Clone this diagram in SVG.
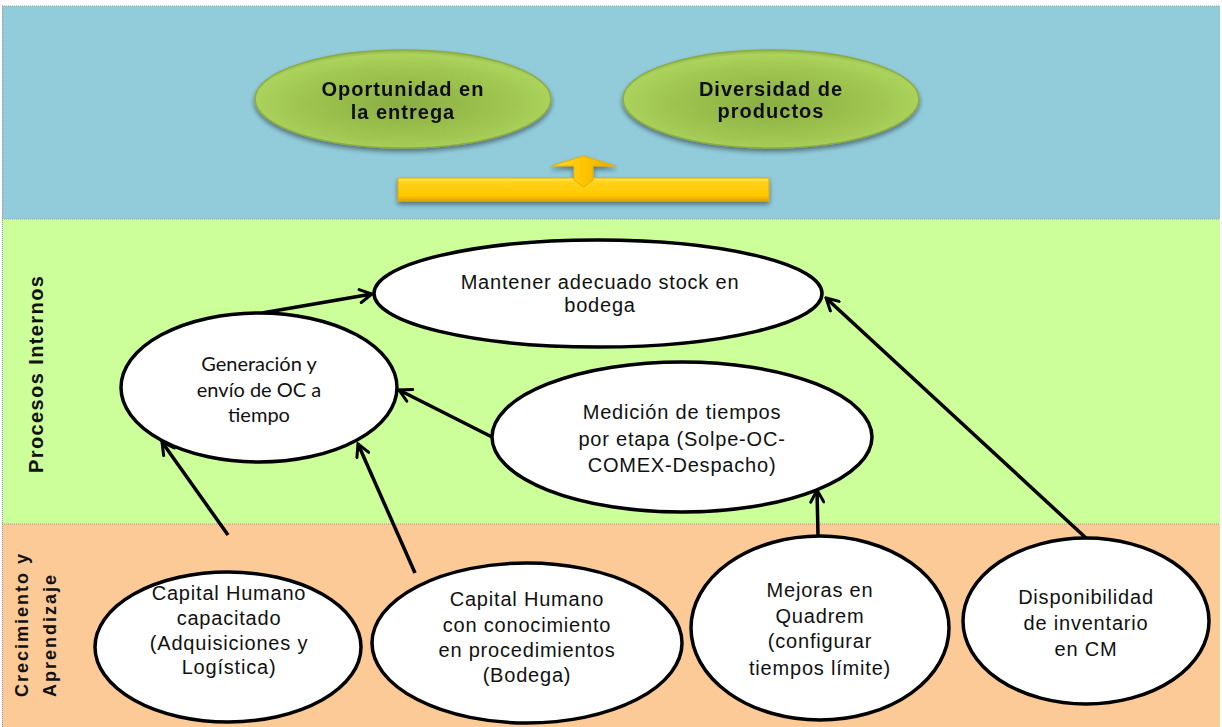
<svg xmlns="http://www.w3.org/2000/svg" width="1222" height="727" viewBox="0 0 1222 727">
  <defs>
    <radialGradient id="leafFill" cx="50%" cy="55%" r="55%">
      <stop offset="0%" stop-color="#8AAD43"/>
      <stop offset="70%" stop-color="#A2C852"/>
      <stop offset="92%" stop-color="#ABD35C"/>
      <stop offset="100%" stop-color="#93B448"/>
    </radialGradient>
    <linearGradient id="goldBar" x1="0" y1="0" x2="0" y2="1">
      <stop offset="0%" stop-color="#FFE66A"/>
      <stop offset="18%" stop-color="#FFD21A"/>
      <stop offset="75%" stop-color="#FFC800"/>
      <stop offset="100%" stop-color="#E0A300"/>
    </linearGradient>
    <linearGradient id="goldShaft" x1="0" y1="0" x2="1" y2="0">
      <stop offset="0%" stop-color="#FFD93A"/>
      <stop offset="50%" stop-color="#FFC400"/>
      <stop offset="100%" stop-color="#E8AA00"/>
    </linearGradient>
    <filter id="softShadow" x="-20%" y="-20%" width="140%" height="160%">
      <feGaussianBlur in="SourceAlpha" stdDeviation="2.5"/>
      <feOffset dx="0" dy="3" result="b"/>
      <feComponentTransfer><feFuncA type="linear" slope="0.45"/></feComponentTransfer>
      <feMerge><feMergeNode/><feMergeNode in="SourceGraphic"/></feMerge>
    </filter>
    <marker id="openArrow" viewBox="0 0 16 16" refX="14" refY="8" markerWidth="16" markerHeight="16" markerUnits="userSpaceOnUse" orient="auto">
      <path d="M2,1.5 L14,8 L2,14.5" fill="none" stroke="#000" stroke-width="3" stroke-linecap="round" stroke-linejoin="miter"/>
    </marker>
  </defs>
  <style>
    .node { fill: #FFFFFF; stroke: #000; stroke-width: 3.5; }
    .txt { font-family: "Liberation Sans", Arial, sans-serif; font-size: 20px; letter-spacing: 0.8px; fill: #111; text-anchor: middle; }
    .txtc { font-family: Lato, "Liberation Sans", sans-serif; font-size: 20px; fill: #111; text-anchor: middle; }
    .goal { font-family: "Liberation Sans", Arial, sans-serif; font-size: 20px; font-weight: bold; letter-spacing: 1px; fill: #111; text-anchor: middle; }
    .lane { font-family: "Liberation Sans", Arial, sans-serif; font-weight: bold; fill: #111; }
    .conn { fill: none; stroke: #000; stroke-width: 3.5; marker-end: url(#openArrow); }
    .sep { stroke: #9A9A9A; stroke-width: 1; stroke-dasharray: 1 1; }
  </style>

  <rect x="0" y="0" width="1222" height="727" fill="#FFFFFF"/>

  <!-- perspective bands -->
  <g id="bands">
    <rect x="2" y="6" width="1218" height="213" fill="#92CCDB"/>
    <rect x="2" y="219" width="1218" height="305" fill="#CCFF99"/>
    <rect x="2" y="524" width="1218" height="203" fill="#FBCA97"/>
    <line class="sep" x1="2" y1="6" x2="1220" y2="6"/>
    <line class="sep" x1="2" y1="219" x2="1220" y2="219"/>
    <line class="sep" x1="2" y1="524" x2="1220" y2="524"/>
    <line class="sep" x1="2.5" y1="6" x2="2.5" y2="727"/>
  </g>

  <!-- lane titles -->
  <g id="lane-procesos">
    <text class="lane" font-size="20" letter-spacing="1.4" transform="translate(43,473) rotate(-90)">Procesos Internos</text>
  </g>
  <g id="lane-crecimiento">
    <text class="lane" font-size="18" letter-spacing="2" transform="translate(28,697) rotate(-90)">Crecimiento y</text>
    <text class="lane" font-size="18" letter-spacing="2" transform="translate(55.5,697) rotate(-90)">Aprendizaje</text>
  </g>

  <!-- customer goals -->
  <g id="goal-oportunidad" filter="url(#softShadow)">
    <ellipse cx="403" cy="99" rx="148" ry="49" fill="url(#leafFill)" stroke="#8CAA42" stroke-width="1.5"/>
    <text class="goal" x="403" y="96">Oportunidad en</text>
    <text class="goal" x="403" y="119">la entrega</text>
  </g>
  <g id="goal-diversidad" filter="url(#softShadow)">
    <ellipse cx="771" cy="99" rx="148" ry="49" fill="url(#leafFill)" stroke="#8CAA42" stroke-width="1.5"/>
    <text class="goal" x="771" y="96">Diversidad de</text>
    <text class="goal" x="771" y="118">productos</text>
  </g>

  <!-- upward block arrow -->
  <g id="up-arrow" filter="url(#softShadow)">
    <rect x="398" y="178" width="371" height="23" fill="url(#goldBar)" stroke="#E2A800" stroke-width="1"/>
    <path d="M551,166 L583.5,156 L616,166 L593,166 L593,180 L583.5,187 L574,180 L574,166 Z" fill="url(#goldShaft)" stroke="#E8AE00" stroke-width="1"/>
  </g>

  <!-- connectors -->
  <g id="connectors">
    <path class="conn" d="M262,313 L372,294"/>
    <path class="conn" d="M494,438 L399,390"/>
    <path class="conn" d="M228,535 L162,442"/>
    <path class="conn" d="M415,573 L358,444"/>
    <path class="conn" d="M818,535 L817,490"/>
    <path class="conn" d="M1086,538 L826,298"/>
  </g>

  <!-- internal process nodes -->
  <g id="node-mantener">
    <ellipse class="node" cx="598" cy="293.5" rx="224" ry="53.5"/>
    <text class="txt" x="600" y="289">Mantener adecuado stock en</text>
    <text class="txt" x="600" y="312">bodega</text>
  </g>
  <g id="node-generacion">
    <ellipse class="node" cx="259" cy="387.5" rx="138" ry="74.5"/>
    <text class="txtc" x="259" y="371">Generación y</text>
    <text class="txtc" x="259" y="397">envío de OC a</text>
    <text class="txtc" x="259" y="422">tiempo</text>
  </g>
  <g id="node-medicion">
    <ellipse class="node" cx="682" cy="437" rx="190" ry="75"/>
    <text class="txt" x="682" y="419">Medición de tiempos</text>
    <text class="txt" x="682" y="446">por etapa (Solpe-OC-</text>
    <text class="txt" x="682" y="472">COMEX-Despacho)</text>
  </g>

  <!-- learning and growth nodes -->
  <g id="node-capital-capacitado">
    <ellipse class="node" cx="228" cy="647" rx="133" ry="75"/>
    <text class="txt" x="229" y="600">Capital Humano</text>
    <text class="txt" x="229" y="625">capacitado</text>
    <text class="txt" x="229" y="650">(Adquisiciones y</text>
    <text class="txt" x="229" y="674">Logística)</text>
  </g>
  <g id="node-capital-procedimientos">
    <ellipse class="node" cx="527" cy="643" rx="155" ry="80"/>
    <text class="txt" x="527" y="606">Capital Humano</text>
    <text class="txt" x="527" y="632">con conocimiento</text>
    <text class="txt" x="527" y="657">en procedimientos</text>
    <text class="txt" x="527" y="682">(Bodega)</text>
  </g>
  <g id="node-quadrem">
    <ellipse class="node" cx="820" cy="628" rx="129" ry="92"/>
    <text class="txt" x="820" y="597">Mejoras en</text>
    <text class="txt" x="820" y="623">Quadrem</text>
    <text class="txt" x="820" y="648">(configurar</text>
    <text class="txt" x="820" y="675">tiempos límite)</text>
  </g>
  <g id="node-inventario">
    <ellipse class="node" cx="1086" cy="621" rx="123" ry="83"/>
    <text class="txt" x="1086" y="604">Disponibilidad</text>
    <text class="txt" x="1086" y="630">de inventario</text>
    <text class="txt" x="1086" y="656">en CM</text>
  </g>
</svg>
